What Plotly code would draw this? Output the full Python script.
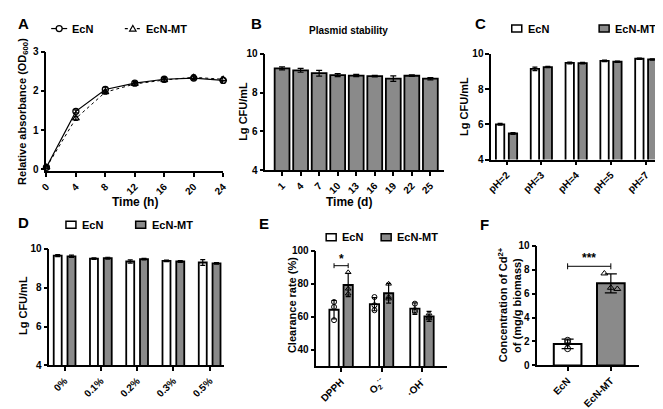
import plotly.graph_objects as go

FONT = "Liberation Sans, Arial, sans-serif"
GREY = "#8a8a8a"

# ---------- data ----------
# A: growth curve
time_h = [0, 4, 8, 12, 16, 20, 24]
a_ecn = [0.05, 1.48, 2.04, 2.20, 2.30, 2.33, 2.27]
a_ecn_err = [0.02, 0.04, 0.06, 0.04, 0.05, 0.05, 0.05]
a_mt = [0.05, 1.30, 1.97, 2.18, 2.28, 2.35, 2.30]
a_mt_err = [0.02, 0.05, 0.05, 0.04, 0.05, 0.06, 0.06]

# B: plasmid stability
b_days = ["1", "4", "7", "10", "13", "16", "19", "22", "25"]
b_vals = [9.25, 9.15, 9.00, 8.90, 8.88, 8.85, 8.72, 8.87, 8.72]
b_err = [0.08, 0.10, 0.15, 0.08, 0.06, 0.04, 0.14, 0.04, 0.06]

# C: pH tolerance
c_cats = ["pH=2", "pH=3", "pH=4", "pH=5", "pH=7"]
c_ecn = [6.00, 9.15, 9.48, 9.60, 9.72]
c_ecn_err = [0.05, 0.10, 0.05, 0.04, 0.04]
c_mt = [5.48, 9.25, 9.47, 9.55, 9.68]
c_mt_err = [0.05, 0.04, 0.04, 0.04, 0.04]

# D: bile salt tolerance
d_cats = ["0%", "0.1%", "0.2%", "0.3%", "0.5%"]
d_ecn = [9.65, 9.50, 9.35, 9.38, 9.30]
d_ecn_err = [0.05, 0.04, 0.08, 0.04, 0.15]
d_mt = [9.62, 9.52, 9.47, 9.35, 9.25]
d_mt_err = [0.06, 0.05, 0.04, 0.05, 0.04]

# E: antioxidant clearance rate
e_cats = ["DPPH", "O<sub>2</sub><sup>·-</sup>", "·OH<sup>-</sup>"]
e_ecn = [64.3, 67.7, 65.0]
e_ecn_err = [5.6, 4.0, 3.5]
e_mt = [79.3, 74.3, 60.3]
e_mt_err = [7.0, 6.0, 3.0]
e_ecn_pts = [[69, 66, 58], [72, 67, 64], [68, 64, 63]]
e_mt_pts = [[87, 77, 74], [80, 72, 71], [62, 60, 59]]

# F: Cd2+ adsorption
f_cats = ["EcN", "EcN-MT"]
f_vals = [1.8, 6.87]
f_err = [0.4, 0.8]
f_pts = [[2.1, 1.9, 1.4], [7.7, 6.5, 6.4]]

series_names = ["EcN", "EcN-MT"]

fig = go.Figure()


def B(t):
    return "<b>%s</b>" % t


AX = dict(showline=True, linecolor="black", linewidth=1.5, ticks="outside",
          ticklen=4, tickwidth=1.5, tickcolor="black", showgrid=False,
          zeroline=False, tickfont=dict(size=10, color="black", family=FONT))


def px2x(p):
    return p / 663


def px2y(p):
    return 1 - p / 409


# ---------- A ----------
fig.add_trace(go.Scatter(x=time_h, y=a_ecn, mode="lines+markers", name=series_names[0],
    line=dict(color="black", width=1.2),
    marker=dict(symbol="circle-open", size=6, color="black", line=dict(width=1.3)),
    error_y=dict(type="data", array=a_ecn_err, color="black", thickness=1.2, width=2),
    xaxis="x", yaxis="y", showlegend=False, cliponaxis=False))
fig.add_trace(go.Scatter(x=time_h, y=a_mt, mode="lines+markers", name=series_names[1],
    line=dict(color="black", width=1, dash="dot"),
    marker=dict(symbol="triangle-up-open", size=6, color="black", line=dict(width=1.3)),
    error_y=dict(type="data", array=a_mt_err, color="black", thickness=1.2, width=2),
    xaxis="x", yaxis="y", showlegend=False, cliponaxis=False))

# ---------- B ----------
b_x = list(range(len(b_days)))
fig.add_trace(go.Bar(x=b_x, y=b_vals, width=0.8, marker=dict(color=GREY, line=dict(color="black", width=1.8)),
    error_y=dict(type="data", array=b_err, color="black", thickness=1.2, width=3),
    xaxis="x2", yaxis="y2", showlegend=False))


# ---------- grouped helpers ----------
def grouped(cats, v1, e1, v2, e2, xa, ya, off, w):
    xs = list(range(len(cats)))
    fig.add_trace(go.Bar(x=[x - off for x in xs], y=v1, width=w, name=series_names[0],
        marker=dict(color="white", line=dict(color="black", width=1.8)),
        error_y=dict(type="data", array=e1, color="black", thickness=1.2, width=2.5),
        xaxis=xa, yaxis=ya, showlegend=False))
    fig.add_trace(go.Bar(x=[x + off for x in xs], y=v2, width=w, name=series_names[1],
        marker=dict(color=GREY, line=dict(color="black", width=1.8)),
        error_y=dict(type="data", array=e2, color="black", thickness=1.2, width=2.5),
        xaxis=xa, yaxis=ya, showlegend=False))
    return xs


c_x = grouped(c_cats, c_ecn, c_ecn_err, c_mt, c_mt_err, "x3", "y3", 0.185, 0.24)
d_x = grouped(d_cats, d_ecn, d_ecn_err, d_mt, d_mt_err, "x4", "y4", 0.19, 0.22)
e_x = grouped(e_cats, e_ecn, e_ecn_err, e_mt, e_mt_err, "x5", "y5", 0.175, 0.23)

# E individual points
ex1, ey1, ex2, ey2 = [], [], [], []
for i, (p1, p2) in enumerate(zip(e_ecn_pts, e_mt_pts)):
    for v in p1:
        ex1.append(i - 0.175); ey1.append(v)
    for v in p2:
        ex2.append(i + 0.175); ey2.append(v)
fig.add_trace(go.Scatter(x=ex1, y=ey1, mode="markers", marker=dict(symbol="circle-open", size=5, color="black", line=dict(width=1)),
    xaxis="x5", yaxis="y5", showlegend=False))
fig.add_trace(go.Scatter(x=ex2, y=ey2, mode="markers", marker=dict(symbol="triangle-up-open", size=5, color="black", line=dict(width=1)),
    xaxis="x5", yaxis="y5", showlegend=False))

# ---------- F ----------
f_x = list(range(len(f_cats)))
fig.add_trace(go.Bar(x=f_x, y=f_vals, width=0.64,
    marker=dict(color=["white", GREY], line=dict(color="black", width=2)),
    error_y=dict(type="data", array=f_err, color="black", thickness=1.2, width=6),
    xaxis="x6", yaxis="y6", showlegend=False))
fig.add_trace(go.Scatter(x=[0, 0, 0], y=f_pts[0], mode="markers",
    marker=dict(symbol="circle-open", size=6, color="black", line=dict(width=1)),
    xaxis="x6", yaxis="y6", showlegend=False))
fig.add_trace(go.Scatter(x=[0.85, 1.0, 1.15], y=f_pts[1], mode="markers",
    marker=dict(symbol="triangle-up-open", size=6, color="black", line=dict(width=1)),
    xaxis="x6", yaxis="y6", showlegend=False))


# ---------- axes ----------
def yt(vals):
    return dict(tickvals=vals, ticktext=[B(v) for v in vals])


def xt(vals, labels):
    return dict(tickvals=vals, ticktext=[B(l) for l in labels], tickangle=-45)


fig.update_layout(
    xaxis=dict(AX, domain=[px2x(32), px2x(212)], range=[0, 24], anchor="y", **xt(time_h, [str(t) for t in time_h])),
    yaxis=dict(AX, domain=[px2y(162), px2y(39)], range=[-0.05, 3], anchor="x", **yt([0, 1, 2, 3])),
    xaxis2=dict(AX, domain=[px2x(255), px2x(437)], range=[-0.9, 8.74], anchor="y2", **xt(b_x, b_days)),
    yaxis2=dict(AX, domain=[px2y(161), px2y(41)], range=[4, 10], anchor="x2", **yt([4, 6, 8, 10])),
    xaxis3=dict(AX, domain=[px2x(485), px2x(663)], range=[-0.44, 4.58], anchor="y3", **xt(c_x, c_cats)),
    yaxis3=dict(AX, domain=[px2y(150), px2y(41)], range=[4, 10], anchor="x3", **yt([4, 6, 8, 10])),
    xaxis4=dict(AX, domain=[px2x(35), px2x(213)], range=[-0.42, 4.4], anchor="y4", **xt(d_x, d_cats)),
    yaxis4=dict(AX, domain=[px2y(362), px2y(242)], range=[4, 10], anchor="x4", **yt([4, 6, 8, 10])),
    xaxis5=dict(AX, domain=[px2x(307), px2x(440)], range=[-0.61, 2.62], anchor="y5", **xt(e_x, e_cats)),
    yaxis5=dict(AX, domain=[px2y(363), px2y(244)], range=[30, 100], anchor="x5", **yt([40, 60, 80, 100])),
    xaxis6=dict(AX, domain=[px2x(532), px2x(635)], range=[-0.7, 1.64], anchor="y6", **xt(f_x, f_cats)),
    yaxis6=dict(AX, domain=[px2y(362), px2y(239)], range=[0, 10], anchor="x6", **yt([0, 2, 4, 6, 8, 10])),
)

# significance brackets (data coords)
fig.add_shape(type="line", xref="x5", yref="y5", x0=-0.175, x1=0.175, y0=91, y1=91, line=dict(color="black", width=1))
for xx in (-0.175, 0.175):
    fig.add_shape(type="line", xref="x5", yref="y5", x0=xx, x1=xx, y0=89.5, y1=92.5, line=dict(color="black", width=1))
fig.add_shape(type="line", xref="x6", yref="y6", x0=0, x1=1, y0=8.3, y1=8.3, line=dict(color="black", width=1))
for xx in (0, 1):
    fig.add_shape(type="line", xref="x6", yref="y6", x0=xx, x1=xx, y0=8.05, y1=8.55, line=dict(color="black", width=1))

ann = []


def txt(x, y, t, size=11, angle=0, xanchor="center", yanchor="middle"):
    ann.append(dict(x=x, y=y, xref="paper", yref="paper", text=B(t), showarrow=False, textangle=angle,
                    xanchor=xanchor, yanchor=yanchor, font=dict(size=size, color="black", family=FONT)))


# panel letters
txt(px2x(1), px2y(10), "A", 15, xanchor="left")
txt(px2x(238), px2y(10), "B", 15, xanchor="left")
txt(px2x(466), px2y(10), "C", 15, xanchor="left")
txt(px2x(1), px2y(215), "D", 15, xanchor="left")
txt(px2x(246), px2y(216), "E", 15, xanchor="left")
txt(px2x(472), px2y(217), "F", 15, xanchor="left")

# axis titles
txt(px2x(8), px2y(100), "Relative absorbance (OD<sub>600</sub>)", 11, -90)
txt(px2x(122), px2y(194), "Time (h)", 12)
txt(px2x(232), px2y(100), "Lg CFU/mL", 11, -90)
txt(px2x(340), px2y(194), "Time (d)", 12)
txt(px2x(340), px2y(17), "Plasmid stability", 10)
txt(px2x(458), px2y(95), "Lg CFU/mL", 11, -90)
txt(px2x(8), px2y(300), "Lg CFU/mL", 11, -90)
txt(px2x(282), px2y(300), "Clearance rate (%)", 11, -90)
txt(px2x(497), px2y(300), "Concentration of Cd<sup>2+</sup>", 11, -90)
txt(px2x(511), px2y(300), "of (mg/g biomass)", 11, -90)

# significance stars
ann.append(dict(x=0, y=95, xref="x5", yref="y5", text=B("*"), showarrow=False,
                font=dict(size=12, color="black", family=FONT)))
ann.append(dict(x=0.5, y=9.0, xref="x6", yref="y6", text=B("***"), showarrow=False,
                font=dict(size=12, color="black", family=FONT)))


# ---------- legends (swatches + labels) ----------
def swatch(cx, cy, fill):
    fig.add_shape(type="rect", xref="paper", yref="paper", xsizemode="pixel", ysizemode="pixel",
                  xanchor=px2x(cx), yanchor=px2y(cy), x0=-5, x1=5, y0=-3.5, y1=3.5,
                  fillcolor=fill, line=dict(color="black", width=1.5))


def box_legend(x1, x2, cy):
    swatch(x1, cy, "white")
    txt(px2x(x1 + 9), px2y(cy), series_names[0], 11, xanchor="left")
    swatch(x2, cy, GREY)
    txt(px2x(x2 + 9), px2y(cy), series_names[1], 11, xanchor="left")


box_legend(511, 600, 15)
box_legend(57, 128, 217)
box_legend(322, 378, 230)

for cx, dash, sym in ((45, "solid", "circle"), (120, "dot", "tri")):
    fig.add_shape(type="line", xref="paper", yref="paper", xsizemode="pixel", ysizemode="pixel",
                  xanchor=px2x(cx), yanchor=px2y(15), x0=-8, x1=8, y0=0, y1=0,
                  line=dict(color="black", width=1.2, dash=dash))
    if sym == "circle":
        fig.add_shape(type="circle", xref="paper", yref="paper", xsizemode="pixel", ysizemode="pixel",
                      xanchor=px2x(cx), yanchor=px2y(15), x0=-3, x1=3, y0=-3, y1=3,
                      fillcolor="white", line=dict(color="black", width=1.3))
    else:
        fig.add_shape(type="path", xref="paper", yref="paper", xsizemode="pixel", ysizemode="pixel",
                      xanchor=px2x(cx), yanchor=px2y(15), path="M-3.2,-2.5 L3.2,-2.5 L0,3 Z",
                      fillcolor="white", line=dict(color="black", width=1.2))
txt(px2x(56), px2y(15), series_names[0], 11, xanchor="left")
txt(px2x(131), px2y(15), series_names[1], 11, xanchor="left")

fig.update_layout(width=663, height=409, margin=dict(l=0, r=0, t=0, b=0),
                  paper_bgcolor="white", plot_bgcolor="white", annotations=ann,
                  barmode="overlay", showlegend=False, font=dict(family=FONT, color="black"))

fig.write_html("out.html")
